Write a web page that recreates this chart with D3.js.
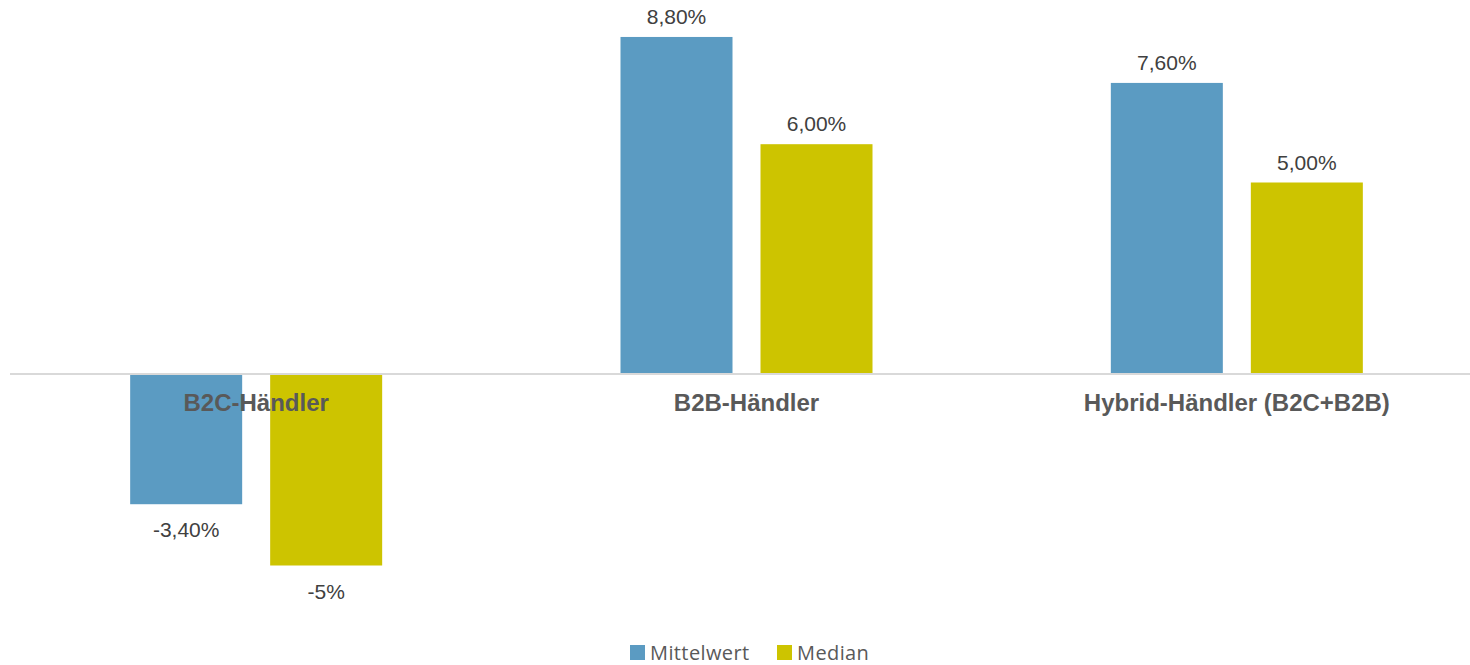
<!DOCTYPE html>
<html>
<head>
<meta charset="utf-8">
<script src="https://cdn.jsdelivr.net/npm/d3@7"></script>
<style>
  body { margin: 0; background: #fff; }
  svg { display: block; }
</style>
</head>
<body>
<div id="chart"></div>
<script>
// chart values
const categories = ["B2C-Händler", "B2B-Händler", "Hybrid-Händler (B2C+B2B)"];
const seriesNames = ["Mittelwert", "Median"];
const mittelwert = [-3.4, 8.8, 7.6];
const median = [-5, 6, 5];
const valueLabels = [["-3,40%", "8,80%", "7,60%"], ["-5%", "6,00%", "5,00%"]];
const colors = ["#5b9bc2", "#cdc400"];

const width = 1470, height = 665;
const svg = d3.select("#chart").append("svg")
  .attr("width", width).attr("height", height);

// scales
let x = d3.scaleBand().domain(categories).range([11, 1482]).padding(0);
let xSub = d3.scaleBand().domain(seriesNames).range([0, 252]).paddingInner(0.2);
let y = d3.scaleLinear().domain([-6, 9]).range([374 + 6 * 38.3, 374 - 9 * 38.3]);

let series = [mittelwert, median];

// bars
series.forEach(function(vals, si) {
  let g = svg.append("g");
  g.selectAll("rect").data(vals).enter().append("rect")
    .attr("x", (d, i) => x(categories[i]) + x.bandwidth() / 2 - 126 + xSub(seriesNames[si]))
    .attr("y", d => y(Math.max(0, d)))
    .attr("width", xSub.bandwidth())
    .attr("height", d => Math.abs(y(d) - y(0)))
    .attr("fill", colors[si]);

  // value labels
  g.selectAll("text").data(vals).enter().append("text")
    .attr("x", (d, i) => x(categories[i]) + x.bandwidth() / 2 - 126 + xSub(seriesNames[si]) + xSub.bandwidth() / 2)
    .attr("y", d => d >= 0 ? y(d) - 13 : y(d) + 33)
    .attr("text-anchor", "middle")
    .style("font-family", "'Liberation Sans', Arial, sans-serif")
    .style("font-size", "21px")
    .style("fill", "#404040")
    .text((d, i) => valueLabels[si][i]);
});

// zero line
svg.append("line")
  .attr("x1", 10).attr("x2", width)
  .attr("y1", y(0)).attr("y2", y(0))
  .attr("stroke", "#d9d9d9").attr("stroke-width", 2);

// category labels
svg.append("g").selectAll("text").data(categories).enter().append("text")
  .attr("x", d => x(d) + x.bandwidth() / 2)
  .attr("y", 411)
  .attr("text-anchor", "middle")
  .style("font-family", "'Liberation Sans', Arial, sans-serif")
  .style("font-size", "24px")
  .style("font-weight", "bold")
  .style("fill", "#595959")
  .text(d => d);

// legend
let legend = svg.append("g");
let legendX = [630, 777];
seriesNames.forEach(function(name, i) {
  legend.append("rect")
    .attr("x", legendX[i]).attr("y", 645)
    .attr("width", 15).attr("height", 15)
    .attr("fill", colors[i]);
  legend.append("text")
    .attr("x", legendX[i] + 20).attr("y", 660)
    .style("font-family", "'Open Sans', sans-serif")
    .style("font-size", "20px")
    .style("letter-spacing", "0.4px")
    .style("fill", "#595959")
    .text(name);
});
</script>
</body>
</html>
